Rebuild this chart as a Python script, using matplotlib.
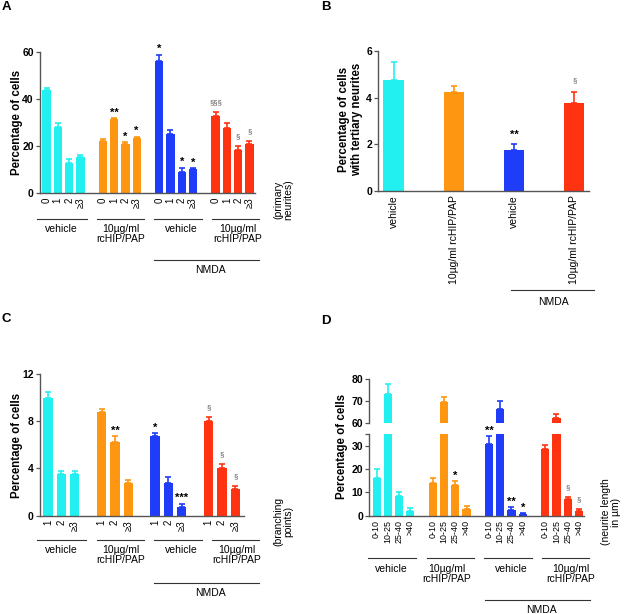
import numpy as np
import matplotlib
matplotlib.use('Agg')
import matplotlib.pyplot as plt
from matplotlib.lines import Line2D

plt.rcParams['font.family'] = ['Liberation Sans', 'DejaVu Sans']

W, H = 624, 614
colors = ['#22f0f0', '#ff9612', '#1f3cf8', '#ff3312']
groups = ['vehicle', '10µg/ml\nrcHIP/PAP', 'vehicle', '10µg/ml\nrcHIP/PAP']

# A - primary neurites
a_cats = ['0', '1', '2', '≥3']
a_vals = [[43.8, 28.0, 13.0, 15.5], [22.3, 31.3, 20.9, 23.6],
          [56.2, 25.0, 9.2, 10.2], [32.8, 27.8, 18.4, 20.9]]
a_errs = [[0.7, 1.6, 1.5, 0.7], [0.9, 0.6, 0.7, 0.3],
          [2.5, 1.8, 1.7, 0.4], [1.6, 1.8, 1.6, 1.4]]
a_sig = [['', '', '', ''], ['', '**', '*', '*'],
         ['*', '', '*', '*'], ['§§§', '', '§', '§']]

# B - tertiary neurites
b_cats = ['vehicle', '10µg/ml rcHIP/PAP', 'vehicle', '10µg/ml rcHIP/PAP']
b_vals = [4.76, 4.26, 1.76, 3.76]
b_errs = [0.75, 0.25, 0.25, 0.47]
b_sig = ['', '', '**', '§']

# C - branching points
c_cats = ['1', '2', '≥3']
c_vals = [[10.0, 3.5, 3.5], [8.76, 6.27, 2.74], [6.75, 2.74, 0.76], [8.02, 4.0, 2.26]]
c_errs = [[0.45, 0.3, 0.3], [0.24, 0.45, 0.26], [0.25, 0.51, 0.24], [0.37, 0.4, 0.24]]
c_sig = [['', '', ''], ['', '**', ''], ['*', '', '***'], ['§', '§', '§']]

# D - neurite length
d_cats = ['0-10', '10-25', '25-40', '>40']
d_vals = [[16.3, 73.1, 8.6, 2.1], [14.2, 69.7, 13.0, 2.9],
          [30.7, 66.2, 2.4, 0.7], [28.8, 62.0, 7.0, 2.1]]
d_errs = [[3.8, 4.9, 1.4, 1.1], [1.8, 2.1, 1.8, 1.1],
          [3.4, 3.6, 1.3, 0.3], [1.4, 1.8, 1.2, 0.9]]
d_sig = [['', '', '', ''], ['', '', '*', ''],
         ['**', '', '**', '*'], ['', '', '§', '§']]

fig = plt.figure(figsize=(W / 100, H / 100), dpi=100)


def px_ax(l, t, r, b):
    return fig.add_axes([l / W, 1 - b / H, (r - l) / W, (b - t) / H])


def ftext(x, y, s, **kw):
    fig.text(x / W, 1 - y / H, s, **kw)


def fline(x0, x1, y):
    fig.add_artist(Line2D([x0 / W, x1 / W], [1 - y / H, 1 - y / H],
                          transform=fig.transFigure, color='#333333', lw=0.8))


def style(ax, yticks, ylabels=None, xsize=7):
    for s in ['top', 'right']:
        ax.spines[s].set_visible(False)
    for s in ['left', 'bottom']:
        ax.spines[s].set_color('#555555')
        ax.spines[s].set_linewidth(1.0)
    ax.set_yticks(yticks)
    ax.set_yticklabels(ylabels if ylabels else [str(t) for t in yticks],
                       fontweight='bold', fontsize=7.5)
    ax.tick_params(axis='y', length=3, width=0.9, color='#555555', pad=1.5)
    ax.tick_params(axis='x', length=0, pad=3, labelsize=xsize)


def bars(ax, vals, errs, step, width):
    xs = []
    for g in range(len(vals)):
        x = g * step + np.arange(len(vals[g]))
        ax.bar(x, vals[g], width, color=colors[g],
               yerr=[np.zeros(len(x)), errs[g]],
               error_kw=dict(ecolor=colors[g], elinewidth=1.2, capsize=2, capthick=1.2))
        xs.append(x)
    return xs


def mark(ax, x, top, s, off_star=4, off_sec=6.5):
    if s.startswith('*'):
        ax.annotate(s, (x, top), xytext=(0, off_star), textcoords='offset points',
                    ha='center', va='center', fontsize=8, fontweight='bold',
                    color='black', annotation_clip=False)
    else:
        ax.annotate(s, (x, top), xytext=(0, off_sec), textcoords='offset points',
                    ha='center', va='center', fontsize=5.5, color='#555555',
                    annotation_clip=False)


def marks(ax, xs, vals, errs, sigs):
    for g in range(4):
        for x, v, e, s in zip(xs[g], vals[g], errs[g], sigs[g]):
            if s:
                mark(ax, x, v + e, s)


def group_axis(line_x, label_x, y_line, y_text, nmda_x, y_nmda, nmda_tx):
    for (x0, x1), lx, name in zip(line_x, label_x, groups):
        fline(x0, x1, y_line)
        ftext(lx, y_text, name, ha='center', va='top', fontsize=7.5, linespacing=1.0)
    fline(nmda_x[0], nmda_x[1], y_nmda)
    ftext(nmda_tx, y_nmda + 10, 'NMDA', ha='center', va='center', fontsize=7.5)


# panel A
ax = px_ax(40, 51.7, 255, 193.3)
xs = bars(ax, a_vals, a_errs, 5, 0.74)
marks(ax, xs, a_vals, a_errs, a_sig)
ax.set_ylim(0, 60)
ax.set_xlim(-0.58, 18.5)
style(ax, [0, 20, 40, 60])
ax.set_xticks(np.concatenate(xs), a_cats * 4, rotation=90)
ftext(16.7, 122, 'Percentage of cells', rotation=90, ha='center', va='center',
      fontsize=8.3, fontweight='bold')
group_axis([(37.3, 87.3), (96.7, 144), (154, 201.7), (212.3, 259.3)],
           [61.7, 120.5, 181.7, 238], 218.5, 223.5, (154, 259.3), 260, 210)
ftext(283, 200, '(primary\nneurites)', rotation=90, ha='center', va='center',
      fontsize=7.5, linespacing=1.0)

# panel B
ax = px_ax(378.3, 51, 589.3, 191)
bx = np.arange(4)
for i in range(4):
    ax.bar(bx[i], b_vals[i], 0.34, color=colors[i],
           yerr=[[0], [b_errs[i]]],
           error_kw=dict(ecolor=colors[i], elinewidth=1.2, capsize=2.5, capthick=1.2))
    if b_sig[i]:
        mark(ax, bx[i], b_vals[i] + b_errs[i], b_sig[i], off_star=6.5, off_sec=8.6)
ax.set_ylim(0, 6)
ax.set_xlim(-0.256, 3.25)
style(ax, [0, 2, 4, 6], xsize=7.5)
ax.set_xticks(bx, b_cats, rotation=90)
ftext(350.5, 119, 'Percentage of cells\nwith tertiary neurites', rotation=90,
      ha='center', va='center', fontsize=8.3, fontweight='bold', linespacing=1.05)
fline(510.7, 594, 290)
ftext(553, 301.7, 'NMDA', ha='center', va='center', fontsize=7.5)

# panel C
ax = px_ax(40, 374, 244, 515.7)
xs = bars(ax, c_vals, c_errs, 4, 0.7)
marks(ax, xs, c_vals, c_errs, c_sig)
ax.set_ylim(0, 12)
ax.set_xlim(-0.6, 14.65)
style(ax, [0, 4, 8, 12])
ax.set_xticks(np.concatenate(xs), c_cats * 4, rotation=90)
ftext(16.7, 445, 'Percentage of cells', rotation=90, ha='center', va='center',
      fontsize=8.3, fontweight='bold')
group_axis([(37.3, 86), (97, 144), (154, 202), (212.3, 259.3)],
           [61.7, 120.5, 181.7, 237], 540, 545, (154, 259.3), 583.3, 210)
ftext(283, 521, '(branching\npoints)', rotation=90, ha='center', va='center',
      fontsize=7.5, linespacing=1.0)

# panel D (broken axis)
lo = px_ax(369.3, 434.3, 584, 515.7)
up = px_ax(369.3, 379.3, 584, 422.7)
xs = bars(lo, d_vals, d_errs, 5, 0.72)
bars(up, d_vals, d_errs, 5, 0.72)
marks(lo, xs, d_vals, d_errs, d_sig)
lo.set_ylim(0, 35)
up.set_ylim(60, 80)
for a in (lo, up):
    a.set_xlim(-0.65, 18.45)
style(lo, [0, 10, 20, 30, 35], ['0', '10', '20', '30', ''], xsize=6.4)
style(up, [60, 70, 80])
up.spines['bottom'].set_visible(False)
up.set_xticks([])
lo.set_xticks(np.concatenate(xs), d_cats * 4, rotation=90)
ftext(342, 446.5, 'Percentage of cells', rotation=90, ha='center', va='center',
      fontsize=8.3, fontweight='bold')
group_axis([(367.7, 415.7), (426.7, 474), (484.3, 532.3), (541.7, 589.3)],
           [391.7, 447, 511.7, 571], 558, 564.5, (485, 590), 600, 541.7)
ftext(611, 512, '(neurite length\nin µm)', rotation=90, ha='center', va='center',
      fontsize=7.5, linespacing=1.0)

# panel letters
for lx, ly, s in [(6.7, 7.2, 'A'), (326, 7.2, 'B'), (6.7, 319.5, 'C'), (326, 320.8, 'D')]:
    ftext(lx, ly, s, ha='center', va='center', fontsize=9.5, fontweight='bold')

fig.savefig('out.png', dpi=100, facecolor='white')
